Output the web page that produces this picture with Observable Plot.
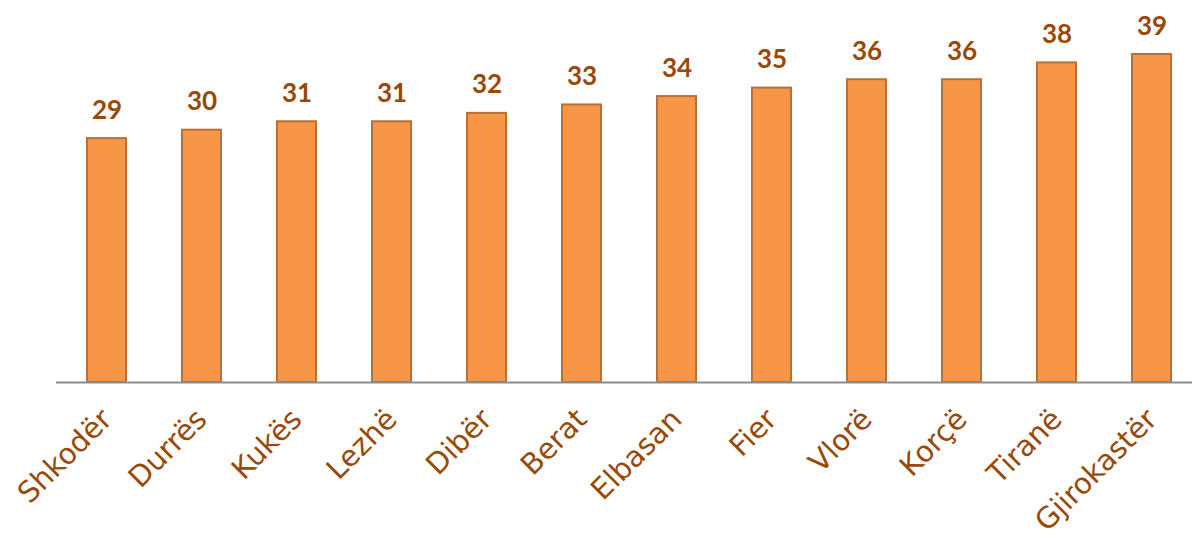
<!DOCTYPE html>
<html><head><meta charset="utf-8">
<script src="https://cdn.jsdelivr.net/npm/d3@7"></script>
<script src="https://cdn.jsdelivr.net/npm/@observablehq/plot@0.6"></script>
<style>body{margin:0;background:#fff;overflow:hidden}</style>
</head><body><div id="chart"></div>
<script>
const categories = ["Shkodër","Durrës","Kukës","Lezhë","Dibër","Berat","Elbasan","Fier","Vlorë","Korçë","Tiranë","Gjirokastër"];
const values = [29,30,31,31,32,33,34,35,36,36,38,39];
const data = categories.map((c,i)=>({region:c, value:values[i]}));
const brown = "#984807";
const chart = Plot.plot({
  width: 1192, height: 533,
  marginLeft: 56, marginRight: -9, marginTop: 0, marginBottom: 151,
  style: {fontFamily: "DejaVu Sans", background: "#fff"},
  x: {domain: categories, range: [56, 1201], paddingInner: 0.59, paddingOuter: 0.295, label: null},
  y: {domain: [0, 39], range: [382, 54], axis: null},
  marks: [
    Plot.barY(data, {x: "region", y: "value", fill: "#F79646", stroke: "#B8703A", strokeWidth: 2}),
    Plot.ruleY([0], {stroke: "#8c8c8c", strokeWidth: 2}),
    Plot.text(data, {x: "region", y: "value", text: d => String(d.value), lineAnchor: "bottom", dy: -20, fill: brown, fontSize: 26, fontWeight: "bold", fontFamily: "Lato"}),
    Plot.axisX({tickSize: 0, tickRotate: -45, tickPadding: 32, fontSize: 29, fill: brown, fontFamily: "DejaVu Sans", label: null})
  ]
});
document.getElementById("chart").append(chart);
</script></body></html>
